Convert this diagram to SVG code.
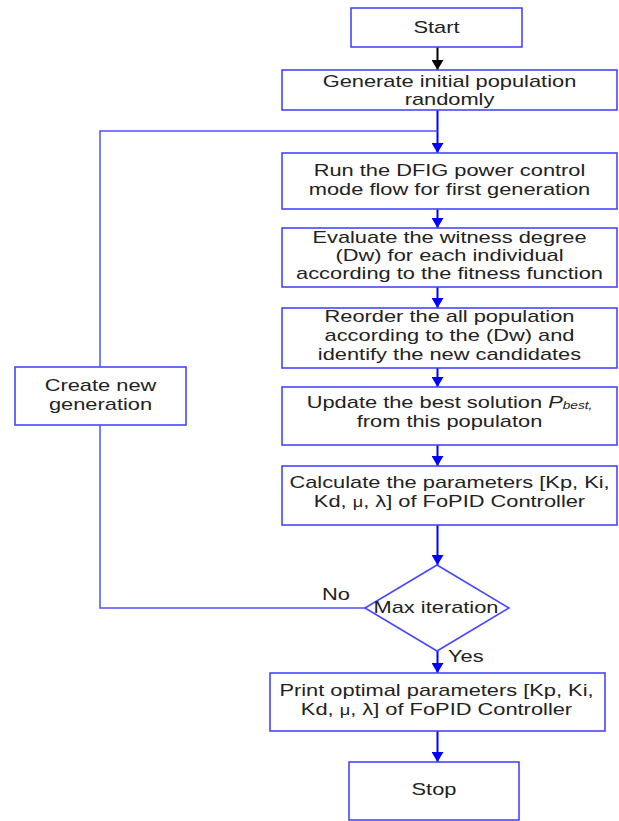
<svg xmlns="http://www.w3.org/2000/svg" width="619" height="821" viewBox="0 0 619 821">
<style>
.box{fill:#fff;stroke:#4646ff;stroke-width:1.6}
.t{font-family:"Liberation Sans",Arial,sans-serif;font-size:16.8px;fill:#222;text-anchor:middle}
.tl{font-family:"Liberation Sans",Arial,sans-serif;font-size:16.8px;fill:#222;text-anchor:start}
.c{fill:none;stroke:#0000ff;stroke-width:2}
.cl{fill:none;stroke:#5050ff;stroke-width:1.5}
</style>
<defs>
<marker id="ab" viewBox="0 0 10 12" refX="10" refY="6" markerWidth="10" markerHeight="12" markerUnits="userSpaceOnUse" orient="auto">
<path d="M0,0 L10,6 L0,12 Z" fill="#0000ff"/>
</marker>
<marker id="ak" viewBox="0 0 10 12" refX="10" refY="6" markerWidth="10" markerHeight="12" markerUnits="userSpaceOnUse" orient="auto">
<path d="M0,0 L10,6 L0,12 Z" fill="#000"/>
</marker>
</defs>
<rect width="619" height="821" fill="#fff"/>
<g id="connectors">
<line x1="437.5" y1="47" x2="437.5" y2="70" stroke="#000" stroke-width="2" marker-end="url(#ak)"/>
<line class="c" x1="437.5" y1="110" x2="437.5" y2="153" marker-end="url(#ab)"/>
<line class="c" x1="437.5" y1="209" x2="437.5" y2="228" marker-end="url(#ab)"/>
<line class="c" x1="437.5" y1="287" x2="437.5" y2="308" marker-end="url(#ab)"/>
<line class="c" x1="437.5" y1="368" x2="437.5" y2="387" marker-end="url(#ab)"/>
<line class="c" x1="437.5" y1="445" x2="437.5" y2="466" marker-end="url(#ab)"/>
<line class="c" x1="437.5" y1="525" x2="437.5" y2="565" marker-end="url(#ab)"/>
<line class="c" x1="437.5" y1="651" x2="437.5" y2="673" marker-end="url(#ab)"/>
<line class="c" x1="437.5" y1="731" x2="437.5" y2="762" marker-end="url(#ab)"/>
<polyline class="cl" points="365,608 100,608 100,425"/>
<polyline class="cl" points="100,367 100,131 437.5,131"/>
<text class="t" transform="translate(336,0) scale(1.3,1)" x="0" y="600">No</text>
<text class="tl" transform="translate(448,0) scale(1.3,1)" x="0" y="662">Yes</text>
</g>
<g id="start">
<rect class="box" x="351" y="8" width="171" height="39"/>
<text class="t" transform="translate(436.5,0) scale(1.3,1)" x="0" y="33">Start</text>
</g>
<g id="generate">
<rect class="box" x="282" y="70" width="335" height="40"/>
<text class="t" transform="translate(449.5,0) scale(1.3,1)"><tspan x="0" y="87">Generate initial population</tspan><tspan x="0" y="105">randomly</tspan></text>
</g>
<g id="run">
<rect class="box" x="282" y="153" width="335" height="56"/>
<text class="t" transform="translate(449.5,0) scale(1.3,1)"><tspan x="0" y="176">Run the DFIG power control</tspan><tspan x="0" y="195">mode flow for first generation</tspan></text>
</g>
<g id="evaluate">
<rect class="box" x="282" y="228" width="335" height="59"/>
<text class="t" transform="translate(449.5,0) scale(1.3,1)"><tspan x="0" y="243">Evaluate the witness degree</tspan><tspan x="0" y="261">(Dw) for each individual</tspan><tspan x="0" y="279">according to the fitness function</tspan></text>
</g>
<g id="reorder">
<rect class="box" x="282" y="308" width="335" height="60"/>
<text class="t" transform="translate(449.5,0) scale(1.3,1)"><tspan x="0" y="322">Reorder the all population</tspan><tspan x="0" y="341">according to the (Dw) and</tspan><tspan x="0" y="360">identify the new candidates</tspan></text>
</g>
<g id="update">
<rect class="box" x="282" y="387" width="335" height="58"/>
<text class="t" transform="translate(449.5,0) scale(1.3,1)"><tspan x="0" y="408">Update the best solution <tspan font-style="italic">P</tspan><tspan font-style="italic" font-size="10.5px" dy="1">best,</tspan></tspan><tspan x="0" y="427">from this populaton</tspan></text>
</g>
<g id="calculate">
<rect class="box" x="282" y="466" width="335" height="59"/>
<text class="t" transform="translate(449.5,0) scale(1.3,1)"><tspan x="0" y="488">Calculate the parameters [Kp, Ki,</tspan><tspan x="0" y="507">Kd, <tspan font-size="14px">μ</tspan>, λ] of FoPID Controller</tspan></text>
</g>
<g id="decision">
<polygon class="box" points="437,565 509,608 437,651 365,608"/>
<text class="t" transform="translate(436,0) scale(1.3,1)" x="0" y="613">Max iteration</text>
</g>
<g id="print">
<rect class="box" x="270" y="673" width="335" height="58"/>
<text class="t" transform="translate(436.5,0) scale(1.3,1)"><tspan x="0" y="696">Print optimal parameters [Kp, Ki,</tspan><tspan x="0" y="715">Kd, <tspan font-size="14px">μ</tspan>, λ] of FoPID Controller</tspan></text>
</g>
<g id="stop">
<rect class="box" x="349" y="762" width="170" height="58"/>
<text class="t" transform="translate(434,0) scale(1.3,1)" x="0" y="795">Stop</text>
</g>
<g id="create">
<rect class="box" x="15" y="367" width="171" height="58"/>
<text class="t" transform="translate(100.5,0) scale(1.3,1)"><tspan x="0" y="391">Create new</tspan><tspan x="0" y="410">generation</tspan></text>
</g>
</svg>
